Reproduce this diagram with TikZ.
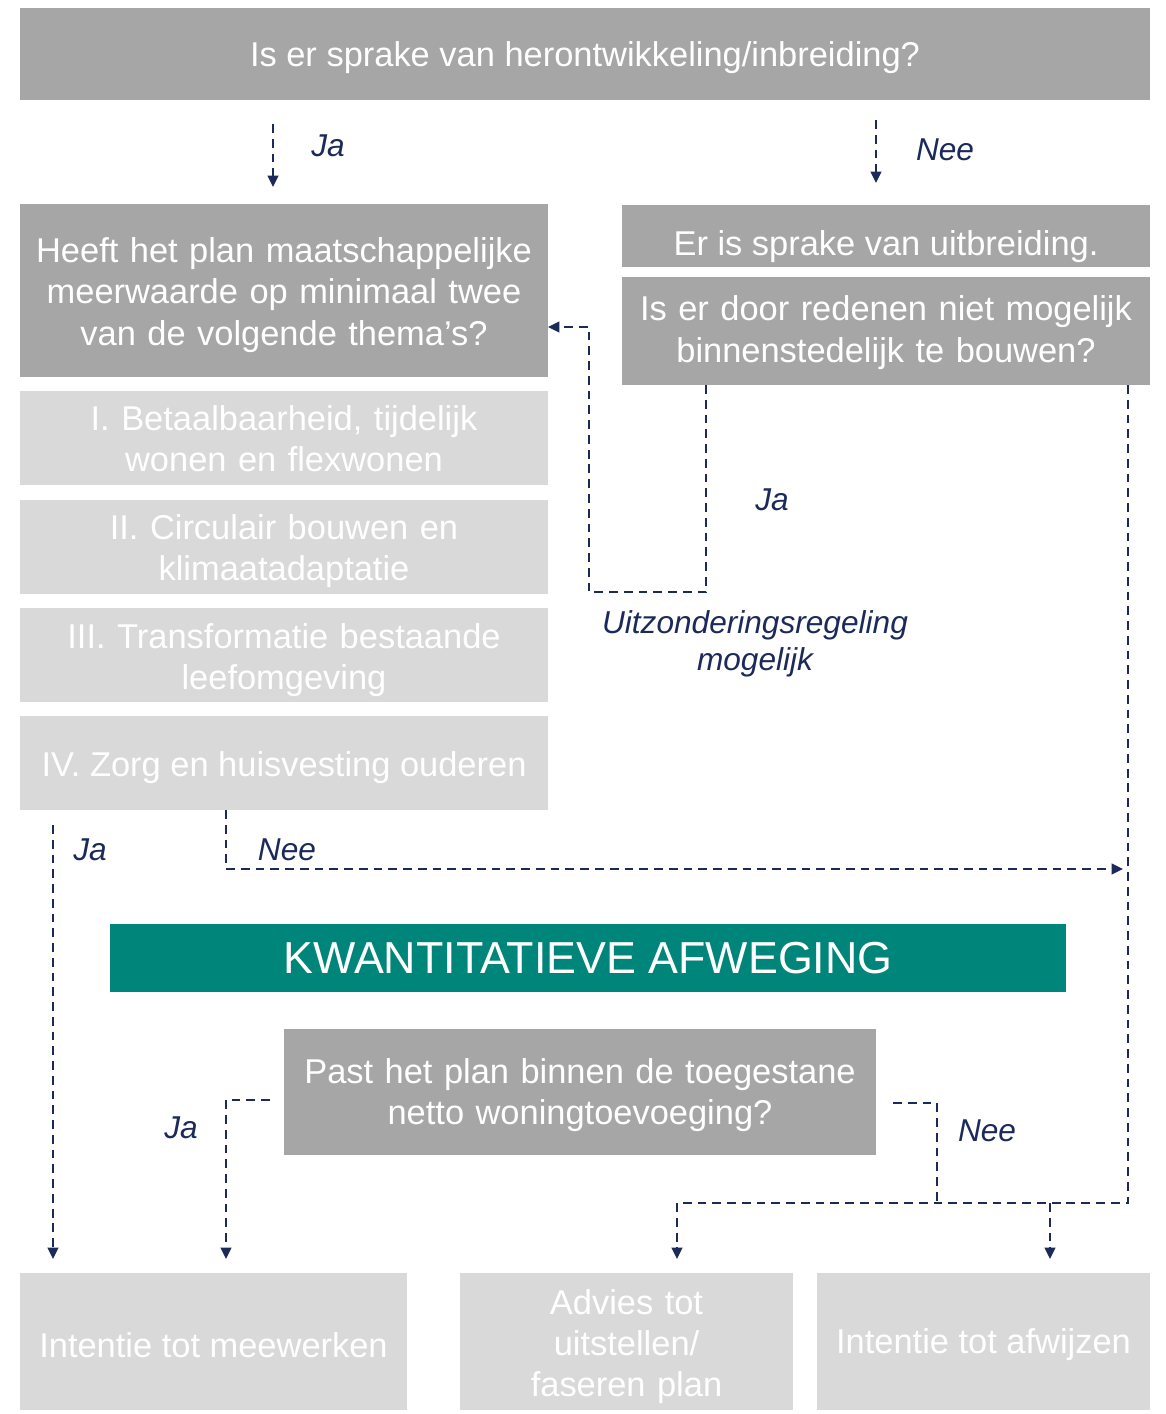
\documentclass[tikz,border=0pt]{standalone}
\usepackage{fontspec}
\setmainfont{Liberation Sans}
\usetikzlibrary{arrows.meta,positioning,calc}

\definecolor{boxdark}{HTML}{A6A6A6}
\definecolor{boxlight}{HTML}{D9D9D9}
\definecolor{tealbar}{HTML}{00857B}
\definecolor{navy}{HTML}{1C2A5A}

\begin{document}
\begin{tikzpicture}[
    x=0.02cm, y=-0.02cm,
    box/.style={
        rectangle,
        inner sep=0pt,
        outer sep=0pt,
        text=white,
        align=center,
        font=\fontsize{19.6}{23.5}\selectfont
    },
    lift/.style={execute at begin node={\rule{0pt}{#1}}},
    question/.style={box, fill=boxdark},
    theme/.style={box, fill=boxlight, minimum width=10.56cm, minimum height=1.88cm},
    outcome/.style={box, fill=boxlight, minimum height=2.74cm},
    banner/.style={box, fill=tealbar, font=\fontsize{25.5}{28}\selectfont},
    answer/.style={text=navy, font=\fontsize{18}{21}\selectfont\itshape},
    link/.style={navy, line width=1.3pt, dash pattern=on 5pt off 3.4pt},
    flow/.style={link, -{Triangle[length=6.5pt, width=6pt]}}
]

\useasboundingbox (0,0) rectangle (1166,1414);

% ===== Top question =====
\node[question, lift=0.92em, minimum width=22.6cm, minimum height=1.84cm] (start) at (585,54)
    {Is er sprake van herontwikkeling/inbreiding?};

\coordinate (jaTopS) at (273,124);
\coordinate (jaTopE) at (273,187);
\draw[flow] (jaTopS) -- (jaTopE);
\node[answer] (jaTop) at (328,146) {Ja};

\coordinate (neeTopS) at (876,120);
\coordinate (neeTopE) at (876,183);
\draw[flow] (neeTopS) -- (neeTopE);
\node[answer] (neeTop) at (945,150) {Nee};

% ===== Left column: themes =====
\node[question, lift=0.98em, text width=10.56cm, minimum height=3.46cm] (heeft) at (284,290.5)
    {Heeft het plan maatschappelijke\\meerwaarde op minimaal twee\\van de volgende thema’s?};

\node[theme, lift=0.78em, text width=10.56cm] (thI) at (284,438) {I. Betaalbaarheid, tijdelijk\\wonen en flexwonen};
\node[theme, lift=0.98em, text width=10.56cm] (thII) at (284,546.5) {II. Circulair bouwen en\\klimaatadaptatie};
\node[theme, lift=1.03em, text width=10.56cm] (thIII) at (284,655) {III. Transformatie bestaande\\leefomgeving};
\node[theme, lift=1.0em] (thIV) at (284,763) {IV. Zorg en huisvesting ouderen};

% ===== Right column: uitbreiding =====
\node[question, lift=1.33em, minimum width=10.56cm, minimum height=1.24cm] (uitbr) at (886,236)
    {Er is sprake van uitbreiding.};
\node[question, lift=0.82em, text width=10.56cm, minimum height=2.16cm] (redenen) at (886,331)
    {Is er door redenen niet mogelijk\\binnenstedelijk te bouwen?};

% Exception loop back to themes
\coordinate (loopA) at (706,592);
\coordinate (loopB) at (589,327);
\draw[flow] (redenen.south -| loopA) -- (loopA) -| (loopB) -- (heeft.east |- loopB);
\node[answer] (jaLoop) at (772,500) {Ja};
\node[answer, align=center] (uitz) at (755,644) {Uitzonderingsregeling\\mogelijk};

% ===== Kwantitatieve afweging =====
\node[banner, minimum width=19.12cm, minimum height=1.36cm] (kwant) at (588,958)
    {KWANTITATIEVE AFWEGING};

\node[question, lift=0.92em, text width=11.84cm, minimum height=2.52cm] (past) at (580,1092)
    {Past het plan binnen de toegestane\\netto woningtoevoeging?};

% ===== Outcomes =====
\node[outcome, lift=0.92em, minimum width=7.74cm] (mee) at (213.5,1341.5) {Intentie tot meewerken};
\node[outcome, lift=1.03em, text width=6.66cm] (advies) at (626.5,1341.5) {Advies tot\\uitstellen/\\faseren plan};
\node[outcome, lift=0.92em, minimum width=6.66cm] (afw) at (983.5,1341.5) {Intentie tot afwijzen};

% Arrow tips above outcomes
\coordinate (tipMeeL) at (53,1259);
\coordinate (tipMeeR) at (226,1259);
\coordinate (tipAdv) at (677,1259);
\coordinate (tipAfw) at (1050,1259);

% Themes: ja / nee
\coordinate (jaThS) at (53,825);
\draw[flow] (jaThS) -- (tipMeeL);
\node[answer] (jaTh) at (90,850) {Ja};

\coordinate (neeThE) at (1123,869);
\draw[flow] (thIV.south -| tipMeeR) |- (neeThE);
\node[answer] (neeTh) at (287,850) {Nee};

% Not possible -> negative outcomes
\coordinate (rCorner) at (1128,1203);
\draw[flow] (redenen.south -| rCorner) -- (rCorner) -| (tipAdv);
\draw[flow] (tipAfw |- rCorner) -- (tipAfw);

% Past: ja / nee
\coordinate (pastJa) at (270,1100);
\draw[flow] (pastJa) -| (tipMeeR);
\node[answer] (jaPast) at (181,1128) {Ja};

\coordinate (pastNee) at (893,1103);
\coordinate (pastNeeE) at (937,1203);
\draw[link] (pastNee) -| (pastNeeE);
\node[answer] (neePast) at (987,1131) {Nee};

\end{tikzpicture}
\end{document}
